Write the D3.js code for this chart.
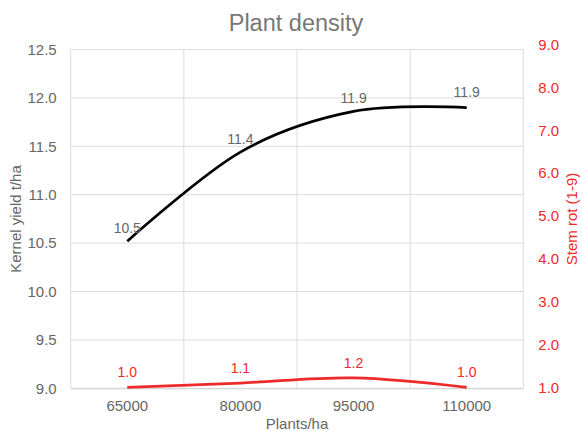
<!DOCTYPE html>
<html><head><meta charset="utf-8">
<script src="https://cdn.jsdelivr.net/npm/d3@7"></script>
<style>body{margin:0;background:#fff}svg{display:block;font-family:"Liberation Sans",Arial,sans-serif}</style>
</head><body><svg id="c" width="582" height="431"></svg>
<script>
const categories = ["65000","80000","95000","110000"];
const yieldValues = [10.52, 11.44, 11.86, 11.9];
const stemRotValues = [1.0, 1.1, 1.22, 1.0];
const leftTicks = [9.0, 9.5, 10.0, 10.5, 11.0, 11.5, 12.0, 12.5];
const rightTicks = [1,2,3,4,5,6,7,8,9];
const title = "Plant density";
const xTitle = "Plants/ha";
const yTitle = "Kernel yield t/ha";
const y2Title = "Stem rot (1-9)";

const svg = d3.select("#c");
const L = 70.7, R = 523.3, T = 49.5, B = 388.3;
const RED = "#ee2a2a", GRAY = "#666";
const FONT = "Liberation Sans, Arial, sans-serif";
const x = d3.scaleBand().domain(categories).range([L, R]);
const y = d3.scaleLinear().domain([9, 12.5]).range([B, T]);
const y2 = d3.scaleLinear().domain([1, 9]).range([B - 1, 44.5]);

// grid
const g = svg.append("g");
g.selectAll("line.h").data(leftTicks).join("line")
  .attr("x1", L).attr("x2", R).attr("y1", d => y(d)).attr("y2", d => y(d))
  .attr("stroke", "#dcdcdc").attr("stroke-width", 1);
const bounds = categories.map(c => x(c)).concat([R]);
g.selectAll("line.v").data(bounds).join("line")
  .attr("x1", d => d).attr("x2", d => d).attr("y1", T).attr("y2", B)
  .attr("stroke", "#dcdcdc").attr("stroke-width", 1);

// axes
const ax = svg.append("g").attr("transform", `translate(0,${B})`)
  .call(d3.axisBottom(x).tickSize(0).tickPadding(12));
ax.select(".domain").attr("stroke", "#d0d0d0");
ax.selectAll("text").attr("fill", GRAY).attr("font-size", 15).attr("font-family", FONT);

const ay = svg.append("g").attr("transform", `translate(${L},0)`)
  .call(d3.axisLeft(y).tickValues(leftTicks).tickFormat(d3.format(".1f")).tickSize(0).tickPadding(14));
ay.select(".domain").remove();
ay.selectAll("text").attr("fill", GRAY).attr("font-size", 15).attr("font-family", FONT);

const ay2 = svg.append("g").attr("transform", `translate(${R},0)`)
  .call(d3.axisRight(y2).tickValues(rightTicks).tickFormat(d3.format(".1f")).tickSize(0).tickPadding(15));
ay2.select(".domain").remove();
ay2.selectAll("text").attr("fill", RED).attr("font-size", 15).attr("font-family", FONT);

// lines
const cx = c => x(c) + x.bandwidth() / 2;
const curve = d3.curveCardinal.tension(0);
svg.append("path").datum(yieldValues)
  .attr("d", d3.line().x((d, i) => cx(categories[i])).y(d => y(d)).curve(curve))
  .attr("fill", "none").attr("stroke", "#000").attr("stroke-width", 2.75);
svg.append("path").datum(stemRotValues)
  .attr("d", d3.line().x((d, i) => cx(categories[i])).y(d => y2(d)).curve(curve))
  .attr("fill", "none").attr("stroke", RED).attr("stroke-width", 2.75);

// data labels
const blackOff = [-8, -8, -8, -11];
svg.selectAll("text.bl").data(yieldValues).join("text")
  .attr("x", (d, i) => cx(categories[i])).attr("y", (d, i) => y(d) + blackOff[i])
  .attr("text-anchor", "middle").attr("font-size", 14).attr("fill", GRAY)
  .text(d => d.toFixed(1));
svg.selectAll("text.rl").data(stemRotValues).join("text")
  .attr("x", (d, i) => cx(categories[i])).attr("y", (d, i) => y2(d) - 10)
  .attr("text-anchor", "middle").attr("font-size", 14).attr("fill", RED)
  .text(d => d.toFixed(1));

// titles
svg.append("text").attr("x", 296).attr("y", 31).attr("text-anchor", "middle")
  .attr("font-size", 23.5).attr("fill", "#777").text(title);
svg.append("text").attr("x", 297).attr("y", 429).attr("text-anchor", "middle")
  .attr("font-size", 15).attr("fill", GRAY).text(xTitle);
svg.append("text").attr("transform", "translate(21,219) rotate(-90)").attr("text-anchor", "middle")
  .attr("font-size", 15).attr("fill", GRAY).text(yTitle);
svg.append("text").attr("transform", "translate(577,219) rotate(-90)").attr("text-anchor", "middle")
  .attr("font-size", 15).attr("fill", RED).text(y2Title);
</script></body></html>
